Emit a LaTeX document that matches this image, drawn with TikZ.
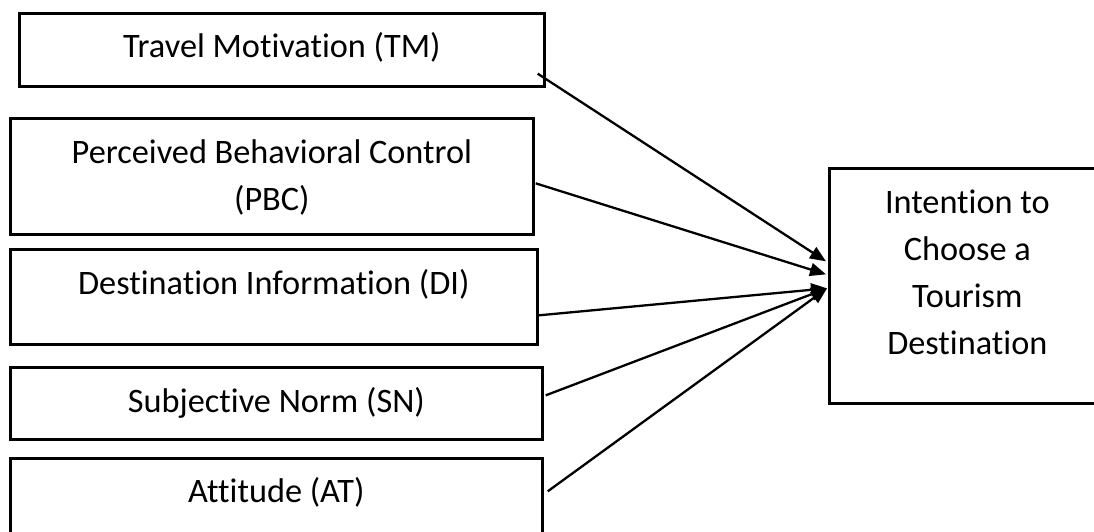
\documentclass[tikz,border=0pt]{standalone}
\usepackage{fontspec}
\setmainfont[Ligatures=NoCommon]{Carlito}
\usetikzlibrary{arrows.meta}

\begin{document}
\begin{tikzpicture}[x=1pt,y=1pt,
        box/.style={draw=black,line width=2.7pt,inner sep=0pt,align=center,
            font=\fontsize{34.3}{47}\selectfont,anchor=north west},
        arr/.style={line width=2.3pt,-{Triangle[length=16pt,width=13pt]}}]
        % frame
        \useasboundingbox (0,0) rectangle (1094,532);
        \clip (0,0) rectangle (1094,532);

        % constructs
        \node[box,minimum width=525pt,text height=44pt,text depth=29pt] (tm) at (18,520) {Travel Motivation (TM)};
        \node[box,minimum width=523pt,text height=92pt,text depth=24pt] (pbc) at (9,415) {Perceived Behavioral Control\\(PBC)};
        \node[box,minimum width=527pt,text height=45pt,text depth=50pt] (di) at (9,284) {Destination Information (DI)};
        \node[box,minimum width=532pt,text height=45pt,text depth=27pt] (sn) at (9,166) {Subjective Norm (SN)};
        \node[box,minimum width=532pt,text height=44pt,text depth=44pt] (at) at (9,75) {Attitude (AT)};

        % outcome
        \node[box,minimum width=276pt,text height=186pt,text depth=49pt] (ict) at (828,365) {Intention to\\Choose a\\Tourism\\Destination};

        % paths
        \draw[arr] ([xshift=-8pt,yshift=14pt]tm.south east) -- ([xshift=-2pt,yshift=24.5pt]ict.west);
        \draw[arr] ([xshift=1pt,yshift=-7pt]pbc.east) -- ([xshift=-2pt,yshift=11.5pt]ict.west);
        \draw[arr] ([yshift=-18.5pt]di.east) -- ([xshift=-1pt,yshift=-2.5pt]ict.west);
        \draw[arr] ([xshift=2pt,yshift=8pt]sn.east) -- ([xshift=-1pt,yshift=-2.5pt]ict.west);
        \draw[arr] ([xshift=4pt,yshift=11pt]at.east) -- ([xshift=-1pt,yshift=-2.5pt]ict.west);
\end{tikzpicture}
\end{document}
